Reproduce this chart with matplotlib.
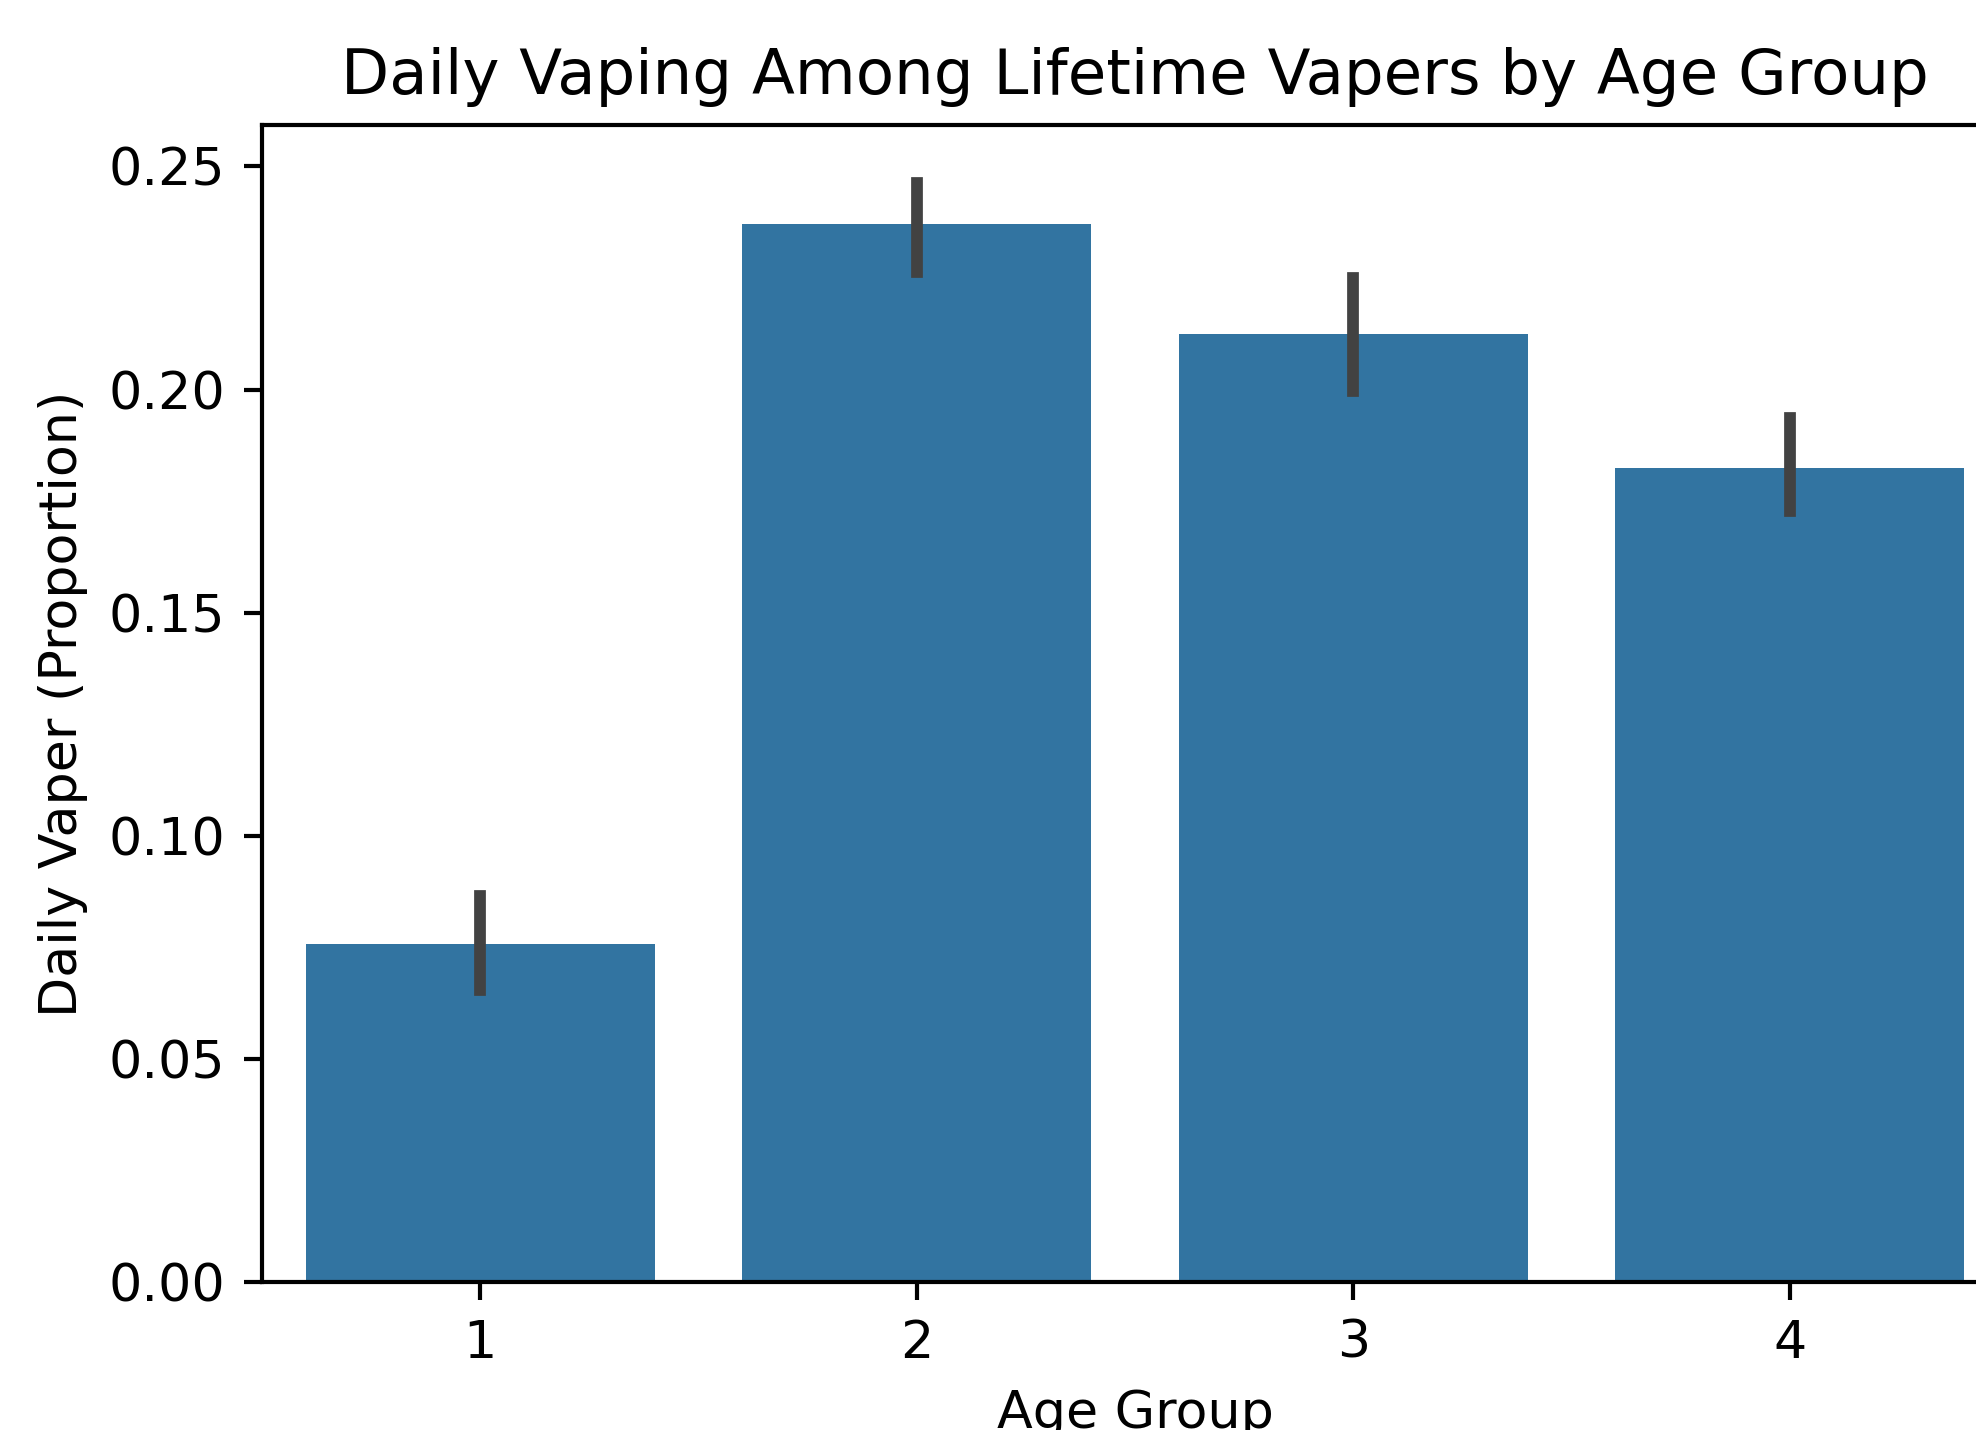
import matplotlib
matplotlib.use("Agg")
import matplotlib.pyplot as plt

# Bar values and error bar ends
age_groups = ["1", "2", "3", "4"]
daily_share = [0.0757, 0.2370, 0.2124, 0.1825]
ci_low = [0.0654, 0.2264, 0.1996, 0.1728]
ci_high = [0.0866, 0.2464, 0.2250, 0.1936]

dpi = 376
fig = plt.figure(figsize=(1976 / dpi, 1430 / dpi), dpi=dpi)
# axes runs a little past the right edge, as in the reference
ax = fig.add_axes([0.1326, 0.1035, 0.8836, 0.8091])

x = list(range(len(age_groups)))
ax.bar(x, daily_share, width=0.8, color="#3274a1")
for xi, lo, hi in zip(x, ci_low, ci_high):
    ax.plot([xi, xi], [lo, hi], color=".26", lw=2.25)

ax.set_xticks(x)
ax.set_xticklabels(age_groups)
ax.set_xlim(-0.5, 3.5)
ax.set_ylim(0, 0.2593)
ax.set_yticks([0.0, 0.05, 0.10, 0.15, 0.20, 0.25])
ax.set_yticklabels(["0.00", "0.05", "0.10", "0.15", "0.20", "0.25"])

ax.set_title("Daily Vaping Among Lifetime Vapers by Age Group")
ax.set_xlabel("Age Group")
ax.set_ylabel("Daily Vaper (Proportion)")

fig.savefig("out.png", dpi=dpi)
